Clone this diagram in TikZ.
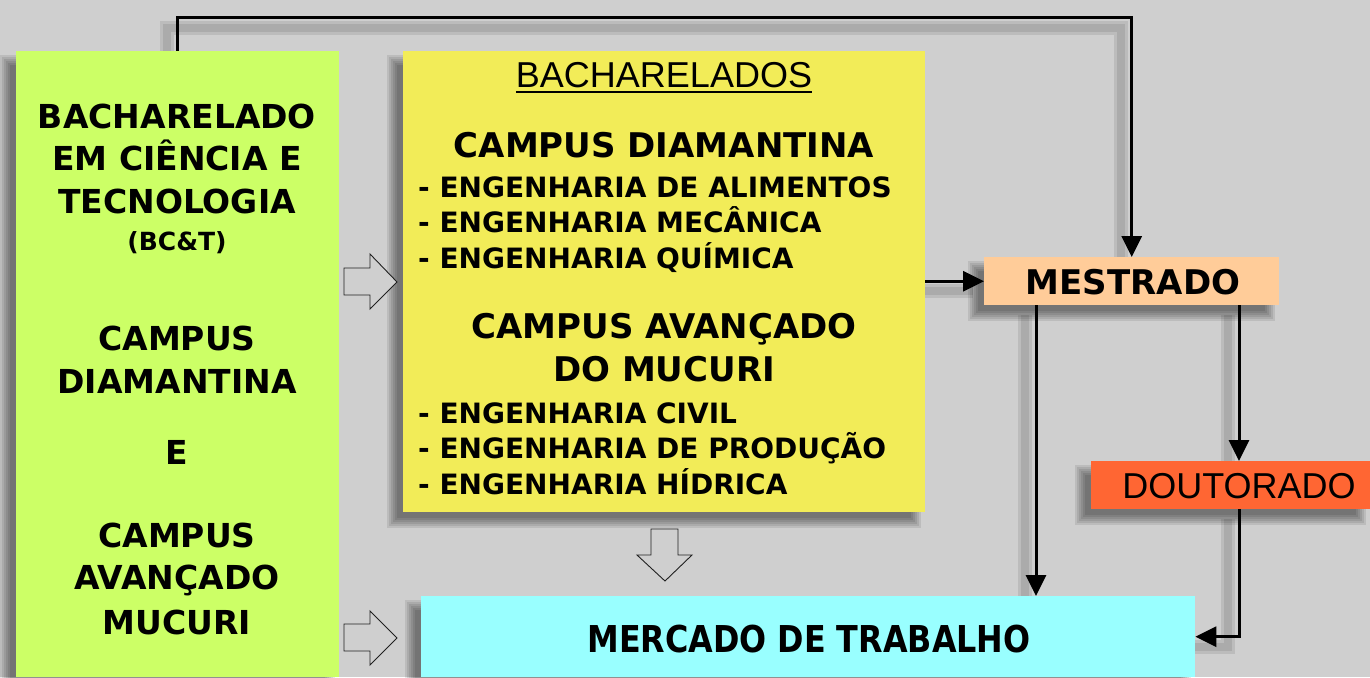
\documentclass[tikz,border=0pt]{standalone}
\usepackage{fontspec}
\setmainfont{DejaVu Sans}
\newfontfamily\arialfont{Liberation Sans}
\usepackage{graphicx}
\usetikzlibrary{arrows.meta,backgrounds,calc}
\definecolor{bggray}{HTML}{CFCFCF}
\definecolor{boxgreen}{HTML}{CCFF66}
\definecolor{boxyellow}{HTML}{F2EC58}
\definecolor{boxpeach}{HTML}{FFCC99}
\definecolor{boxorange}{HTML}{FF6633}
\definecolor{boxcyan}{HTML}{99FFFF}
\definecolor{arrowline}{HTML}{202020}
\begin{document}
\begin{tikzpicture}[x=1pt,y=-1pt,
  box/.style={rectangle,inner sep=0pt,anchor=north west,draw=none},
  bigtxt/.style={font=\fontsize{33}{40}\selectfont\bfseries,inner sep=0pt,anchor=base},
  headtxt/.style={font=\fontsize{34}{40}\selectfont\bfseries,inner sep=0pt,anchor=base},
  itemtxt/.style={font=\fontsize{28}{32}\selectfont\bfseries,inner sep=0pt,anchor=base west},
  arialtxt/.style={font=\arialfont\fontsize{36}{40}\selectfont,inner sep=0pt,anchor=base},
  conn/.style={line width=3pt,black,-{Triangle[length=21pt,width=20pt]}},
  lineshadow/.style={line width=#1,black,opacity=0.09,transform canvas={xshift=-11pt,yshift=-10pt}},
  blockarrow/.style={fill=bggray,draw=arrowline,line width=0.9pt,line join=miter}
]
\useasboundingbox (0,0) rectangle (1370,677);

% boxes
\node[box,fill=boxgreen,minimum width=323pt,minimum height=626pt] (green) at (16,51) {};
\node[box,fill=boxyellow,minimum width=522pt,minimum height=461pt] (yellow) at (403,51) {};
\node[box,fill=boxpeach,minimum width=295pt,minimum height=48pt] (mest) at (984,257) {};
\node[box,fill=boxorange,minimum width=279pt,minimum height=48pt] (dout) at (1091,461) {};
\node[box,fill=boxcyan,minimum width=774pt,minimum height=81pt] (merc) at (421,596) {};

% green box text
\node[bigtxt] (g1) at (177,128) {BACHARELADO};
\node[bigtxt] (g2) at (177,170) {EM CIÊNCIA E};
\node[bigtxt] (g3) at (177,213) {TECNOLOGIA};
\node[bigtxt,font=\fontsize{25}{30}\selectfont\bfseries] (g4) at (177,250) {(BC\&T)};
\node[bigtxt] (g5) at (177,350) {CAMPUS};
\node[bigtxt] (g6) at (177,393) {DIAMANTINA};
\node[bigtxt] (g7) at (177,464) {E};
\node[bigtxt] (g8) at (177,547) {CAMPUS};
\node[bigtxt] (g9) at (177,589) {AVANÇADO};
\node[bigtxt] (g10) at (177,634) {MUCURI};

% yellow box text
\node[arialtxt] (bach) at (664,87) {BACHARELADOS};
\draw[line width=2pt] ([yshift=-5pt]bach.base west) -- ([yshift=-5pt]bach.base east);
\node[headtxt] (cd) at (664,157) {CAMPUS DIAMANTINA};
\node[itemtxt] (i1) at (418,197) {- ENGENHARIA DE ALIMENTOS};
\node[itemtxt] (i2) at (418,232) {- ENGENHARIA MECÂNICA};
\node[itemtxt] (i3) at (418,268) {- ENGENHARIA QUÍMICA};
\node[headtxt] (ca) at (664,338) {CAMPUS AVANÇADO};
\node[headtxt] (dm) at (664,381) {DO MUCURI};
\node[itemtxt] (i4) at (418,423) {- ENGENHARIA CIVIL};
\node[itemtxt] (i5) at (418,458) {- ENGENHARIA DE PRODUÇÃO};
\node[itemtxt] (i6) at (418,494) {- ENGENHARIA HÍDRICA};

% other labels
\node[headtxt] (mt) at (1133,294) {MESTRADO};
\node[arialtxt] (dt) at (1239,498) {DOUTORADO};
\node[headtxt,font=\fontsize{37}{40}\selectfont\bfseries] (mk) at (809,652) {\scalebox{0.86}[1]{MERCADO DE TRABALHO}};

% connector anchor coordinates
\coordinate (mA) at (1036,305);
\coordinate (mB) at (1239,305);
\coordinate (dB) at (1239,509);

% background and shadows
\begin{pgfonlayer}{background}
  \fill[bggray] (0,0) rectangle (1370,677);
  \foreach \n in {green,yellow,mest,dout,merc}{
    \foreach \k in {0,...,5}{
      \fill[black,opacity=0.09] ($(\n.north west)+(-16+2*\k,4+2*\k)$) rectangle ($(\n.south east)+(-4-2*\k,16-2*\k)$);
    }
  }
  \foreach \w in {14pt,8pt}{
    \draw[lineshadow=\w] (green.north) -- ++(0,-33) -| (mest.north);
    \draw[lineshadow=\w] (yellow.east |- mest.west) -- (mest.west);
    \draw[lineshadow=\w] (mA) -- (mA |- merc.north);
    \draw[lineshadow=\w] (mB) -- (mB |- dout.north);
    \draw[lineshadow=\w] (dB) |- (merc.east);
  }
\end{pgfonlayer}

% connectors
\draw[conn] (green.north) -- ++(0,-33) -| (mest.north);
\draw[conn] (yellow.east |- mest.west) -- (mest.west);
\draw[conn] (mA) -- (mA |- merc.north);
\draw[conn] (mB) -- (mB |- dout.north);
\draw[conn] (dB) |- (merc.east);

% block arrows
\draw[blockarrow] (344,268) -- (370,268) -- (370,254) -- (397,282) -- (370,309) -- (370,295) -- (344,295) -- cycle;
\draw[blockarrow] (344,624) -- (370,624) -- (370,611) -- (397,638) -- (370,665) -- (370,651) -- (344,651) -- cycle;
\draw[blockarrow] (651,529) -- (678,529) -- (678,555) -- (692,555) -- (665,581) -- (637,555) -- (651,555) -- cycle;
\end{tikzpicture}
\end{document}
